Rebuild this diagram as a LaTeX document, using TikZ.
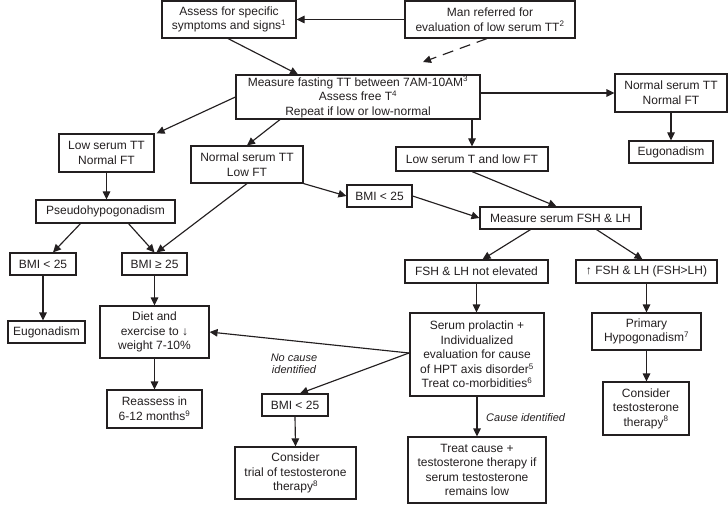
\documentclass[tikz,border=0pt]{standalone}
\usepackage{fontspec}
\setmainfont{Liberation Sans}
\usetikzlibrary{arrows.meta,calc}
\definecolor{ink}{RGB}{35,31,32}
\begin{document}
\begin{tikzpicture}[x=1pt,y=-1pt,
  box/.style={draw=ink,line width=1.15pt,fill=white,inner sep=0pt,align=center,text=ink,
    font=\fontsize{12pt}{14.6pt}\selectfont},
  arr/.style={draw=ink,line width=1.15pt,-{Triangle[length=8pt,width=7.5pt]}},
  lbl/.style={text=ink,font=\fontsize{11pt}{12.5pt}\selectfont\itshape,align=center,inner sep=0pt}]
\useasboundingbox (0,0) rectangle (728,505);
\newcommand\bx[6]{\node[box,minimum width=#4pt,minimum height=#5pt] (#1) at (#2,#3) {#6};}
\bx{assess}{229}{19.5}{134}{37}{Assess for specific\\symptoms and signs\textsuperscript{1}}
\bx{man}{490}{19.5}{170}{37}{Man referred for\\evaluation of low serum TT\textsuperscript{2}}
\bx{measure}{358}{97}{244}{44}{Measure fasting TT between 7AM-10AM\textsuperscript{3}\\Assess free T\textsuperscript{4}\\Repeat if low or low-normal}
\bx{nn}{671}{93}{112}{38}{Normal serum TT\\Normal FT}
\bx{eugA}{671}{152}{84}{22}{Eugonadism}
\bx{lowT}{472}{159}{152}{24}{Low serum T and low FT}
\bx{lowtt}{106.5}{153}{95}{38}{Low serum TT\\Normal FT}
\bx{nlow}{247}{164.5}{112}{37}{Normal serum TT\\Low FT}
\bx{bmiM}{379.5}{196}{65}{22}{BMI < 25}
\bx{pseudo}{105.5}{211.5}{139}{23}{Pseudohypogonadism}
\bx{fsh}{560.5}{218}{161}{22}{Measure serum FSH \& LH}
\bx{bmiL}{43}{264}{66}{22}{BMI < 25}
\bx{bmiG}{154.5}{264}{65}{22}{BMI ≥ 25}
\bx{notel}{476.5}{271.5}{143}{23}{FSH \& LH not elevated}
\bx{up}{646.5}{271.5}{141}{23}{↑ FSH \& LH (FSH>LH)}
\bx{eugB}{46.5}{332}{77}{22}{Eugonadism}
\bx{diet}{154.5}{332}{109}{52}{Diet and\\exercise to ↓\\weight 7-10\%}
\bx{reassess}{154.5}{409}{95}{38}{Reassess in\\6-12 months\textsuperscript{9}}
\bx{bmiB}{295}{405}{66}{22}{BMI < 25}
\bx{trial}{295.5}{473}{121}{52}{Consider\\trial of testosterone\\therapy\textsuperscript{8}}
\bx{sp}{477}{354.5}{134}{83}{Serum prolactin +\\Individualized\\evaluation for cause\\of HPT axis disorder\textsuperscript{5}\\Treat co-morbidities\textsuperscript{6}}
\bx{prim}{646.5}{331.5}{109}{37}{Primary\\Hypogonadism\textsuperscript{7}}
\bx{cons}{646}{408.5}{86}{53}{Consider\\testosterone\\therapy\textsuperscript{8}}
\bx{treat}{477}{470}{138}{66}{Treat cause +\\testosterone therapy if\\serum testosterone\\remains low}
\coordinate (dashend) at (423,62);
\coordinate (junc) at (409,353);
% connectors
\draw[arr] (man.west) -- (assess.east);
\draw[arr,dash pattern=on 11pt off 7pt] ([xshift=-3pt]man.south) -- (dashend);
\draw[arr] ([xshift=-1pt]assess.south) -- ([xshift=-60pt]measure.north);
\draw[arr] (measure.west) -- ([xshift=2pt]lowtt.north east);
\draw[arr] ([xshift=-78pt]measure.south) -- (nlow.north);
\draw[arr] (measure.south -| lowT.north) -- (lowT.north);
\draw[arr] (measure.east |- nn.west) -- (nn.west);
\draw[arr] (nn.south) -- (eugA.north);
\draw[arr] (lowtt.south) -- (lowtt.south |- pseudo.north);
\draw[arr] ([xshift=-25pt]pseudo.south) -- ([xshift=10pt]bmiL.north);
\draw[arr] ([xshift=23pt]pseudo.south) -- (bmiG.north);
\draw[arr] (nlow.south) -- ([xshift=2pt]bmiG.north);
\draw[arr] (nlow.south east) -- (bmiM.west);
\draw[arr] (lowT.south) -- ([xshift=-4pt]fsh.north);
\draw[arr] (bmiM.east) -- (fsh.west);
\draw[arr] ([xshift=-30pt]fsh.south) -- ([xshift=6pt]notel.north);
\draw[arr] ([xshift=36pt]fsh.south) -- ([xshift=-4pt]up.north);
\draw[arr] (bmiL.south) -- (bmiL.south |- eugB.north);
\draw[arr] (bmiG.south) -- (diet.north);
\draw[arr] (diet.south) -- (reassess.north);
\draw[arr] (notel.south) -- (notel.south |- sp.north);
\draw[arr] (up.south) -- (prim.north);
\draw[arr] (prim.south) -- (prim.south |- cons.north);
\draw[arr] (sp.south) -- (treat.north);
\draw[arr] (junc) -- (diet.east);
\draw[arr] (junc) -- ([xshift=5pt]bmiB.north);
\draw[arr] (bmiB.south) -- (trial.north);
% labels
\node[lbl] (nocause) at (294,364) {No cause\\identified};
\node[lbl,anchor=west] (causeid) at (486,418) {Cause identified};
\end{tikzpicture}
\end{document}
